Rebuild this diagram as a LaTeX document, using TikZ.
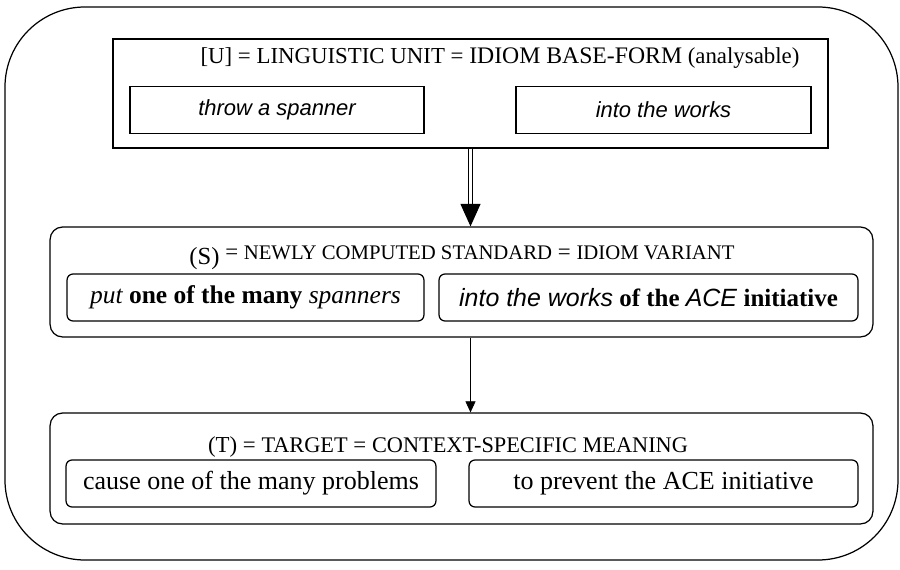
\documentclass[tikz,border=0pt]{standalone}
\usepackage{fontspec}
\setmainfont{Liberation Serif}
\setsansfont{Liberation Sans}
\usetikzlibrary{arrows.meta}
\newcommand{\capsize}[2][13]{{\fontsize{#1}{14}\selectfont #2}}
\newcommand{\sfit}[1]{{\sffamily\itshape #1}}
\tikzset{
  framebox/.style={draw, line width=0.7pt, inner sep=0pt},
  levelbox/.style={framebox, rounded corners=0.25cm},
  wordbox/.style={framebox, minimum height=0.94cm, font=\fontsize{12.5}{14}\selectfont\sffamily\itshape},
  roundword/.style={framebox, rounded corners=0.12cm, minimum height=0.94cm, font=\fontsize{14.8}{16}\selectfont},
  headline/.style={inner sep=0pt, font=\fontsize{13}{14}\selectfont}
}
\begin{document}
\begin{tikzpicture}[x=0.02cm,y=-0.02cm]
\useasboundingbox (0,0) rectangle (900,570);
\draw[line width=0.7pt, rounded corners=1.6cm] (5,7) rectangle (898,560);
\node[framebox, minimum width=14.3cm, minimum height=2.18cm] (ubox) at (470.5,93.5) {};
\node[headline] (uhead) at (500,58) {[U] = \capsize{LINGUISTIC UNIT} = \capsize[13.5]{IDIOM BASE-FORM} (analysable)};
\node[wordbox, minimum width=5.88cm] (uleft) at (277,110) {throw a spanner};
\node[wordbox, minimum width=5.9cm] (uright) at (663.5,110) {into the works};
\node[levelbox, minimum width=16.46cm, minimum height=2.2cm] (sbox) at (461.5,282) {};
\node[headline] (shead) at (462,258) {\raisebox{-0.5ex}{\fontsize{14}{16}\selectfont (S)} = \capsize[11.8]{NEWLY COMPUTED STANDARD} = \capsize[11.8]{IDIOM VARIANT}};
\node[roundword, minimum width=7.14cm, font=\fontsize{14.5}{16}\selectfont] (sleft) at (245.5,297.5) {\itshape put \textbf{\upshape one of the many} spanners};
\node[roundword, minimum width=8.38cm, font=\fontsize{14.2}{16}\selectfont] (sright) at (648.5,297.5) {\sfit{into the works} \textbf{of the} \sfit{ACE} \textbf{initiative}};
\node[levelbox, minimum width=16.46cm, minimum height=2.22cm] (tbox) at (461.5,468.5) {};
\node[headline] (thead) at (448,447) {(T) = \capsize[12.7]{TARGET} = \capsize[12.7]{CONTEXT-SPECIFIC MEANING}};
\node[roundword, minimum width=7.4cm] (tleft) at (251,483.5) {cause one of the many problems};
\node[roundword, minimum width=7.78cm] (tright) at (663.5,483.5) {to prevent the ACE initiative};
\draw[double, line width=0.6pt, double distance=1.4pt, -{Triangle[width=0.4cm,length=0.45cm]}] (ubox.south) -- (ubox.south |- sbox.north);
\draw[line width=0.3pt, -{Triangle[width=0.2cm,length=0.22cm]}] (ubox.south |- sbox.south) -- (ubox.south |- tbox.north);
\end{tikzpicture}
\end{document}
